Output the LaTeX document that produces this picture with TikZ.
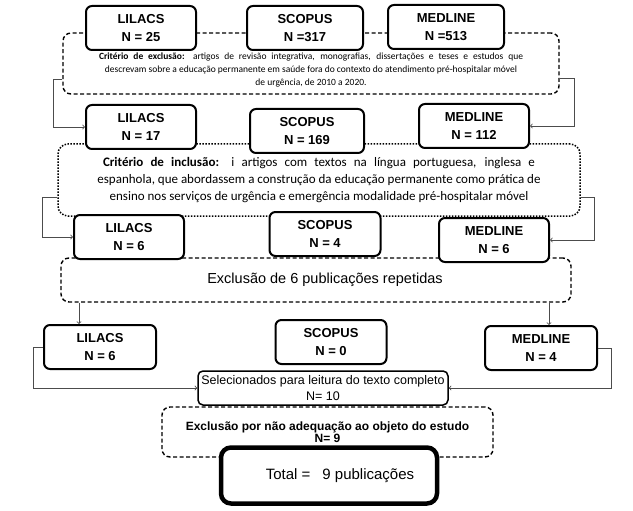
\documentclass[tikz,border=0pt]{standalone}
\usepackage{fontspec}
\setmainfont{Liberation Sans}
\newfontfamily\calfont{Carlito}

\begin{document}
\begin{tikzpicture}[x=1pt, y=-1pt,
  db/.style={draw, line width=2pt, rounded corners=6pt, fill=white, minimum width=110pt, minimum height=44pt, align=center, inner sep=1pt, font=\fontsize{13}{18}\selectfont\bfseries},
  dashbox/.style={draw, line width=1.4pt, dash pattern=on 4pt off 2.5pt, rounded corners=8pt, fill=white},
  dotbox/.style={draw, line width=1.5pt, dash pattern=on 1.5pt off 1.5pt, rounded corners=10pt, fill=white},
  link/.style={->, line width=0.8pt, black!70}]
\useasboundingbox (0,0) rectangle (633,511);
% exclusion criterion and first search
\path (311,63.5) node[dashbox, minimum width=496pt, minimum height=61pt] (ex1) {};
\node[font=\calfont\fontsize{9.5}{13}\selectfont, align=center] (ex1txt) at ([yshift=-6.5pt]ex1.center) {\makebox[424pt][s]{\textbf{Critério de exclusão:} artigos de revisão integrativa, monografias, dissertações e teses e estudos que}\\ descrevam sobre a educação permanente em saúde fora do contexto do atendimento pré-hospitalar móvel\\ de urgência, de 2010 a 2020.};
\path (141,28) node[db] (lil1) {LILACS\\N = 25};
\path (305,28) node[db, minimum width=116pt] (sco1) {SCOPUS\\N =317};
\path (446,27) node[db, minimum width=116pt] (med1) {MEDLINE\\N =513};
% inclusion criterion
\path (319,180) node[dotbox, minimum width=522pt, minimum height=72pt, align=center, font=\calfont\fontsize{13}{17}\selectfont] (inc) {\makebox[432pt][s]{\textbf{Critério de inclusão:} i artigos com textos na língua portuguesa, inglesa e}\\ espanhola, que abordassem a construção da educação permanente como prática de\\ ensino nos serviços de urgência e emergência modalidade pré-hospitalar móvel};
\path (141,127) node[db] (lil2) {LILACS\\N = 17};
\path (307,131) node[db, minimum width=114pt] (sco2) {SCOPUS\\N = 169};
\path (474,126) node[db] (med2) {MEDLINE\\N = 112};
% repeated ones
\path (316,280) node[dashbox, minimum width=510pt, minimum height=44pt, font=\fontsize{14.5}{17}\selectfont] (ex3) {\hspace*{18pt}Exclusão de 6 publicações repetidas};
\path (129,237) node[db] (lil3) {LILACS\\N = 6};
\path (325,234) node[db, minimum width=111pt] (sco3) {SCOPUS\\N = 4};
\path (494,240) node[db] (med3) {MEDLINE\\N = 6};
% after repeated ones
\path (100,347) node[db, minimum width=112pt] (lil4) {LILACS\\N = 6};
\path (331,342) node[db, minimum width=111pt] (sco4) {SCOPUS\\N = 0};
\path (541,348) node[db, minimum width=112pt] (med4) {MEDLINE\\N = 4};
\path (323,388) node[draw, line width=1.5pt, rounded corners=5pt, fill=white, minimum width=250pt, minimum height=34pt, align=center, inner sep=1pt, font=\fontsize{12.5}{16}\selectfont] (sel) {Selecionados para leitura do texto completo\\N= 10};
\path (327.5,432) node[dashbox, minimum width=331pt, minimum height=50pt, align=center, font=\fontsize{12}{11.5}\selectfont\bfseries] (ex4) {Exclusão por não adequação ao objeto do estudo\\N= 9};
\path (329,475.5) node[draw, line width=4.5pt, rounded corners=10pt, fill=white, minimum width=216pt, minimum height=56pt, font=\fontsize{15}{18}\selectfont] (total) {\hspace*{22pt}Total =\hspace{12pt}9 publicações};
% connectors
\draw[link] ([yshift=15pt]ex1.south west) -- ++(-9,0) |- (lil2.west);
\draw[link] ([yshift=16pt]ex1.south east) -- ++(15,0) |- (med2.east);
\draw[link] ([yshift=19pt]inc.south west) -- ++(-15,0) |- (lil3.west);
\draw[link] ([yshift=19pt]inc.south east) -- ++(14,0) |- (med3.east);
\draw[link] ([xshift=-21pt]lil4.north |- ex3.south) -- ([xshift=-21pt]lil4.north);
\draw[link] ([xshift=8pt]med4.north |- ex3.south) -- ([xshift=8pt]med4.north);
\draw[link] (lil4.west) -- ++(-10,0) |- (sel.west);
\draw[link] (med4.east) -- ++(13,0) |- (sel.east);
\end{tikzpicture}
\end{document}
